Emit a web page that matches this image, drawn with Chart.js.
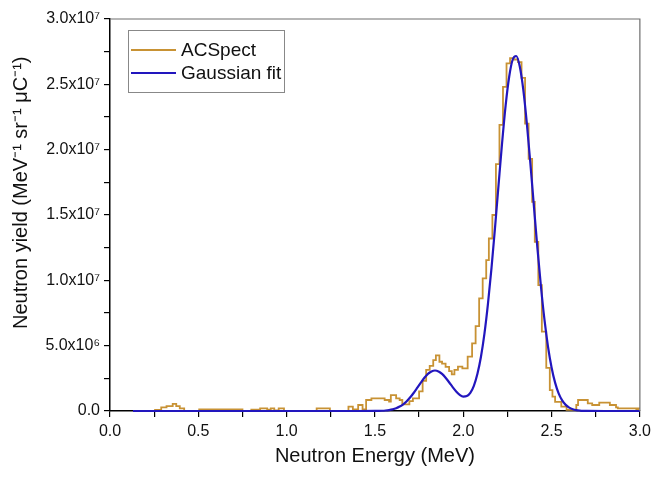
<!DOCTYPE html>
<html lang="en">
<head>
  <meta charset="UTF-8">
  <title>Neutron spectrum</title>
  <script src="https://cdn.jsdelivr.net/npm/chart.js"></script>
  <style>
    body { margin: 0; background: #fff; }
    #wrap { width: 656px; height: 478px; }
  </style>
</head>
<body>
  <div id="wrap">
    <canvas id="spectrum" width="656" height="478"></canvas>
  </div>

<script>
  // ACSpect histogram: each bin starts at histEnergy[i] and keeps histYield[i] until the next edge
  const histEnergy = [0.25, 0.29, 0.32, 0.355, 0.375, 0.395, 0.42, 0.505, 0.75, 0.80, 0.85, 0.89, 0.91, 0.93, 0.955, 0.985,
    1.17, 1.245, 1.35, 1.375, 1.405, 1.43, 1.45, 1.48, 1.555, 1.58, 1.59, 1.62, 1.64, 1.655, 1.695, 1.715, 1.75, 1.77,
    1.79, 1.81, 1.83, 1.845, 1.865, 1.88, 1.90, 1.92, 1.935, 1.95, 1.97, 1.995, 2.025, 2.05, 2.07, 2.09, 2.11, 2.13,
    2.145, 2.165, 2.185, 2.205, 2.225, 2.245, 2.265, 2.285, 2.31, 2.33, 2.35, 2.37, 2.39, 2.405, 2.425, 2.445, 2.47,
    2.49, 2.505, 2.52, 2.555, 2.585, 2.64, 2.65, 2.705, 2.73, 2.77, 2.83, 2.865, 2.875, 2.98, 2.99, 3.0];
  const histYield = [0.08e6, 0.28e6, 0.38e6, 0.54e6, 0.38e6, 0.2e6, 0, 0.12e6, 0, 0.1e6, 0.2e6, 0.1e6, 0.2e6, 0.05e6, 0.2e6, 0,
    0.2e6, 0, 0.33e6, 0.13e6, 0.46e6, 0.13e6, 0.84e6, 0.97e6, 0.84e6, 0.71e6, 1.22e6, 0.97e6, 0.84e6, 0.5e6, 0.75e6, 0.97e6, 1.5e6, 2.3e6,
    3.14e6, 3.45e6, 3.9e6, 4.25e6, 3.77e6, 3.62e6, 3.37e6, 3.05e6, 2.8e6, 3.14e6, 3.39e6, 3.26e6, 4.16e6, 5.18e6, 6.5e6, 8.62e6, 10.15e6, 11.55e6,
    13.2e6, 15.0e6, 18.9e6, 21.9e6, 24.8e6, 26.6e6, 27.0e6, 26.9e6, 26.7e6, 25.5e6, 22.0e6, 19.3e6, 16.0e6, 12.95e6, 9.64e6, 6.07e6, 3.3e6,
    1.6e6, 1.1e6, 0.7e6, 0.33e6, 0.08e6, 0.46e6, 0.84e6, 0.59e6, 0.46e6, 0.64e6, 0.46e6, 0.28e6, 0.2e6, 0.08e6, 0.2e6, 0.2e6];

  // Gaussian fit curve
  const fitEnergy = [0.13, 1.40, 1.50, 1.52, 1.54, 1.56, 1.58, 1.60, 1.62, 1.64, 1.66, 1.68, 1.70, 1.72, 1.74, 1.76, 1.78,
    1.80, 1.82, 1.84, 1.86, 1.88, 1.90, 1.92, 1.94, 1.96, 1.98, 2.00, 2.02, 2.04, 2.06, 2.08, 2.10, 2.12, 2.14, 2.16, 2.18,
    2.20, 2.22, 2.24, 2.26, 2.28, 2.30, 2.32, 2.34, 2.36, 2.38, 2.40, 2.42, 2.44, 2.46, 2.48, 2.50, 2.52, 2.54, 2.56, 2.58,
    2.60, 2.62, 2.64, 2.66, 2.68, 2.70, 2.80, 3.00];
  const fitYield = [0, 0, 0.005e6, 0.011e6, 0.021e6, 0.04e6, 0.073e6, 0.127e6, 0.212e6, 0.338e6, 0.515e6, 0.751e6, 1.047e6, 1.396e6, 1.782e6, 2.174e6, 2.54e6,
    2.84e6, 3.03e6, 3.10e6, 3.03e6, 2.84e6, 2.55e6, 2.20e6, 1.83e6, 1.50e6, 1.24e6, 1.10e6, 1.14e6, 1.39e6, 1.93e6, 2.83e6, 4.13e6, 5.92e6, 8.21e6, 10.95e6, 14.05e6,
    17.32e6, 20.53e6, 23.39e6, 25.58e6, 26.90e6, 27.17e6, 26.36e6, 24.58e6, 22.02e6, 18.95e6, 15.67e6, 12.45e6, 9.51e6, 6.97e6, 4.91e6, 3.33e6, 2.17e6, 1.35e6, 0.81e6, 0.47e6,
    0.26e6, 0.14e6, 0.07e6, 0.035e6, 0.016e6, 0.007e6, 0, 0];

  const xLabels = ['0.0', '0.5', '1.0', '1.5', '2.0', '2.5', '3.0'];
  const yLabels = ['0.0', '5.0x10\u2076', '1.0x10\u2077', '1.5x10\u2077', '2.0x10\u2077', '2.5x10\u2077', '3.0x10\u2077'];

  const FONT = '"Liberation Sans", Arial, sans-serif';
  const orange = 'rgb(200, 146, 52)';
  const blue = 'rgb(34, 22, 190)';

  // grey top and right edges of the frame
  const framePlugin = {
    id: 'frame',
    afterDraw(chart) {
      const { ctx, chartArea: a } = chart;
      ctx.save();
      ctx.strokeStyle = '#6e6e6e';
      ctx.lineWidth = 1.2;
      ctx.beginPath();
      ctx.moveTo(a.left, a.top);
      ctx.lineTo(a.right, a.top);
      ctx.lineTo(a.right, a.bottom);
      ctx.stroke();
      ctx.restore();
    }
  };

  // boxed legend in the upper left corner
  const boxLegend = {
    id: 'boxLegend',
    afterDraw(chart) {
      const ctx = chart.ctx;
      ctx.save();
      ctx.fillStyle = '#fff';
      ctx.fillRect(128, 30, 156, 62);
      ctx.strokeStyle = '#888';
      ctx.lineWidth = 1;
      ctx.strokeRect(128.5, 30.5, 156, 62);
      chart.data.datasets.forEach((ds, i) => {
        const y = 50 + i * 23;
        ctx.strokeStyle = ds.borderColor;
        ctx.lineWidth = 2;
        ctx.beginPath();
        ctx.moveTo(131, y);
        ctx.lineTo(176, y);
        ctx.stroke();
        ctx.fillStyle = '#111';
        ctx.font = '19px ' + FONT;
        ctx.textBaseline = 'middle';
        ctx.fillText(ds.label, 181, y + 1);
      });
      ctx.restore();
    }
  };

  function isMajor(v, step) {
    const q = v / step;
    return Math.abs(q - Math.round(q)) < 1e-6;
  }

  new Chart(document.getElementById('spectrum').getContext('2d'), {
    type: 'line',
    data: {
      datasets: [{
        label: 'ACSpect',
        data: histEnergy.map((e, i) => ({ x: e, y: histYield[i] })),
        borderColor: orange,
        borderWidth: 1.8,
        stepped: true,
        pointRadius: 0,
        fill: false,
        clip: false,
        order: 2
      }, {
        label: 'Gaussian fit',
        data: fitEnergy.map((e, i) => ({ x: e, y: fitYield[i] })),
        borderColor: blue,
        borderWidth: 2.2,
        cubicInterpolationMode: 'monotone',
        pointRadius: 0,
        fill: false,
        clip: false,
        order: 1
      }]
    },
    options: {
      responsive: false,
      animation: false,
      devicePixelRatio: 1,
      layout: { padding: { top: 19, right: 13, left: 0, bottom: 0 } },
      plugins: {
        legend: { display: false },
        tooltip: { enabled: false }
      },
      scales: {
        x: {
          type: 'linear',
          min: 0,
          max: 3,
          afterFit: s => { s.height = 67; },
          border: { display: true, color: '#000', width: 1.5 },
          grid: { drawOnChartArea: false, drawTicks: true, tickLength: 6, color: '#000', lineWidth: 1.2 },
          ticks: {
            stepSize: 0.25,
            autoSkip: false,
            maxRotation: 0,
            padding: 5,
            color: '#111',
            font: { size: 16, family: FONT },
            callback: v => isMajor(v, 0.5) ? xLabels[Math.round(v / 0.5)] : ''
          },
          title: {
            display: true,
            text: 'Neutron Energy (MeV)',
            color: '#111',
            font: { size: 20, family: FONT },
            padding: { top: 0, bottom: 10 }
          }
        },
        y: {
          type: 'linear',
          min: 0,
          max: 3e7,
          afterFit: s => { s.width = 110; },
          border: { display: true, color: '#000', width: 1.5 },
          grid: { drawOnChartArea: false, drawTicks: true, tickLength: 6, color: '#000', lineWidth: 1.2 },
          ticks: {
            stepSize: 2.5e6,
            autoSkip: false,
            padding: 4,
            color: '#111',
            font: { size: 16, family: FONT },
            callback: v => isMajor(v, 5e6) ? yLabels[Math.round(v / 5e6)] : ''
          },
          title: {
            display: true,
            text: '        Neutron yield (MeV\u207B\u00B9 sr\u207B\u00B9 \u03BCC\u207B\u00B9)',
            color: '#111',
            font: { size: 20, family: FONT },
            padding: { top: 9, bottom: 0 }
          }
        }
      }
    },
    plugins: [framePlugin, boxLegend]
  });
</script>
</body>
</html>
